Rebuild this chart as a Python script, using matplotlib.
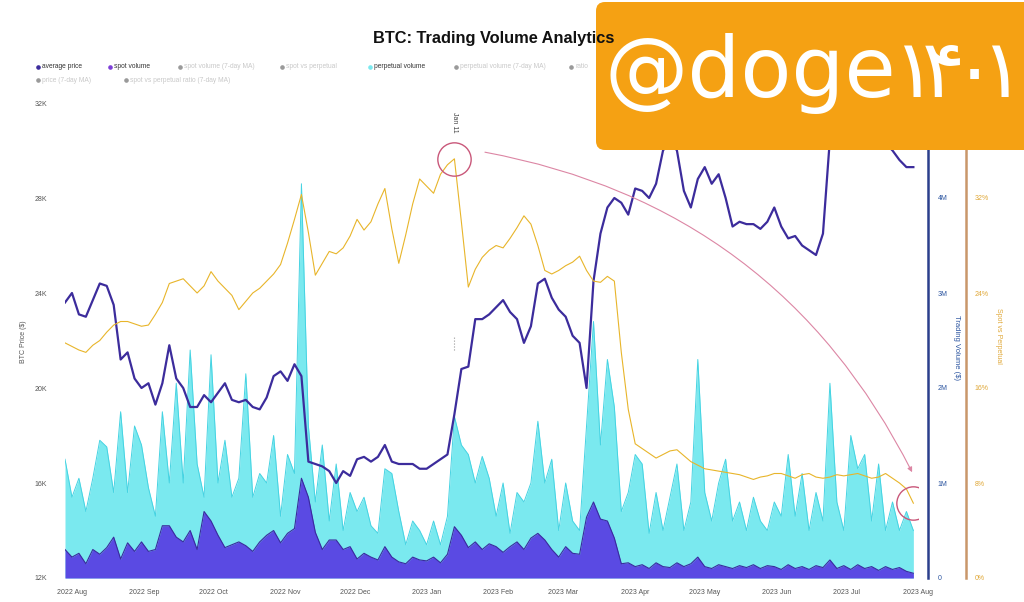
import matplotlib.pyplot as plt
import matplotlib.dates as mdates
from matplotlib.patches import FancyBboxPatch
from matplotlib.ticker import FuncFormatter
import pandas as pd

plt.rcParams['font.family'] = ['Liberation Sans', 'DejaVu Sans']

# one sample every 3 days, 2022-07-29 .. 2023-07-30
dates = pd.date_range('2022-07-29', periods=123, freq='3D')

# average BTC price (thousands of $)
price_k = [23.6, 24.0, 23.1, 23.0, 23.7, 24.4, 24.3, 23.5, 21.2, 21.5,
           20.4, 20.0, 20.2, 19.3, 20.2, 21.8, 20.4, 20.0, 19.2, 19.2,
           19.7, 19.4, 19.8, 20.2, 19.5, 19.4, 19.5, 19.2, 19.1, 19.6,
           20.5, 20.7, 20.3, 21.0, 20.5, 16.9, 16.8, 16.7, 16.5, 16.0,
           16.5, 16.3, 17.0, 17.1, 16.9, 17.1, 17.6, 16.9, 16.8, 16.8,
           16.8, 16.6, 16.6, 16.8, 17.0, 17.2, 18.9, 20.8, 20.9, 22.9,
           22.9, 23.1, 23.4, 23.7, 23.2, 22.9, 21.9, 22.6, 24.4, 24.6,
           23.8, 23.3, 23.0, 22.2, 21.9, 20.0, 24.5, 26.5, 27.6, 28.0,
           27.8, 27.3, 28.4, 28.3, 28.0, 28.6, 30.0, 30.4, 30.0, 28.3,
           27.6, 28.8, 29.3, 28.6, 29.0, 28.0, 26.8, 27.0, 26.9, 26.9,
           26.7, 27.0, 27.6, 26.8, 26.3, 26.4, 26.0, 25.8, 25.6, 26.5,
           30.5, 30.6, 30.3, 30.8, 30.3, 30.2, 30.5, 30.1, 30.3, 30.0,
           29.6, 29.3, 29.3]

# spot vs perpetual (%)
spot_pct = [19.8, 19.5, 19.2, 19.0, 19.6, 20.0, 20.7, 21.3, 21.6, 21.6,
            21.4, 21.2, 21.3, 22.2, 23.2, 24.8, 25.0, 25.2, 24.6, 24.0,
            24.6, 25.8, 25.0, 24.4, 23.8, 22.6, 23.3, 24.0, 24.4, 25.0,
            25.6, 26.4, 28.2, 30.2, 32.3, 29.1, 25.5, 26.5, 27.5, 27.3,
            27.8, 28.8, 30.2, 29.3, 30.0, 31.5, 32.8, 29.4, 26.5, 28.9,
            31.5, 33.6, 33.0, 32.4, 34.0, 34.8, 35.3, 30.0, 24.5, 26.0,
            27.0, 27.6, 28.0, 27.8, 28.6, 29.5, 30.5, 29.8, 28.0, 25.9,
            25.6, 25.9, 26.3, 26.6, 27.1, 25.9, 25.0, 24.9, 25.4, 25.0,
            19.0, 14.2, 11.3, 10.9, 10.5, 10.1, 10.4, 10.7, 10.8, 10.3,
            9.8, 9.5, 9.2, 9.1, 9.0, 8.9, 8.8, 8.7, 8.5, 8.3,
            8.5, 8.6, 8.8, 8.8, 8.6, 8.4, 8.7, 8.8, 8.5, 8.4,
            8.5, 8.7, 8.6, 8.7, 8.8, 8.6, 8.4, 8.5, 8.8, 8.4,
            8.0, 7.5, 6.3]

# perpetual volume (millions of $)
perp_m = [1.25, 0.85, 1.05, 0.70, 1.05, 1.45, 1.38, 0.90, 1.75, 0.90,
          1.60, 1.40, 0.95, 0.65, 1.75, 1.00, 2.05, 1.00, 2.40, 1.20,
          0.85, 2.35, 1.00, 1.45, 0.85, 1.05, 2.15, 0.85, 1.10, 1.00,
          1.50, 0.65, 1.30, 1.10, 4.15, 1.60, 0.80, 1.40, 0.60, 1.20,
          0.50, 0.90, 0.70, 0.85, 0.55, 0.47, 1.15, 1.10, 0.70, 0.35,
          0.60, 0.50, 0.35, 0.60, 0.35, 0.65, 1.70, 1.40, 1.30, 1.00,
          1.28, 1.05, 0.65, 1.00, 0.47, 0.90, 0.80, 1.00, 1.65, 1.00,
          1.25, 0.50, 1.00, 0.60, 0.50, 1.60, 2.70, 1.40, 2.30, 1.80,
          0.70, 0.90, 1.30, 1.20, 0.47, 0.90, 0.50, 0.85, 1.20, 0.50,
          0.80, 2.30, 0.90, 0.60, 1.00, 1.25, 0.60, 0.80, 0.50, 0.85,
          0.60, 0.50, 0.80, 0.65, 1.30, 0.65, 1.10, 0.50, 0.90, 0.60,
          2.05, 0.80, 0.50, 1.50, 1.15, 1.30, 0.60, 1.20, 0.50, 0.80,
          0.50, 0.70, 0.50]

# spot volume (millions of $)
spot_m = [0.30, 0.22, 0.26, 0.15, 0.30, 0.25, 0.32, 0.43, 0.20, 0.37,
          0.28, 0.38, 0.28, 0.30, 0.55, 0.55, 0.43, 0.38, 0.50, 0.30,
          0.70, 0.60, 0.45, 0.32, 0.35, 0.38, 0.34, 0.28, 0.38, 0.45,
          0.50, 0.37, 0.47, 0.52, 1.05, 0.85, 0.48, 0.30, 0.40, 0.40,
          0.30, 0.33, 0.20, 0.26, 0.22, 0.19, 0.33, 0.22, 0.17, 0.15,
          0.22, 0.19, 0.18, 0.22, 0.16, 0.25, 0.54, 0.45, 0.32, 0.38,
          0.30, 0.36, 0.33, 0.27, 0.33, 0.38, 0.30, 0.42, 0.47, 0.40,
          0.30, 0.22, 0.33, 0.26, 0.25, 0.64, 0.80, 0.62, 0.60, 0.42,
          0.15, 0.16, 0.12, 0.14, 0.10, 0.16, 0.12, 0.11, 0.16, 0.12,
          0.15, 0.22, 0.12, 0.10, 0.14, 0.12, 0.10, 0.13, 0.11, 0.14,
          0.10, 0.13, 0.12, 0.09, 0.14, 0.10, 0.12, 0.09, 0.13, 0.11,
          0.19, 0.10, 0.13, 0.09, 0.14, 0.10, 0.12, 0.08, 0.12, 0.09,
          0.11, 0.07, 0.05]

month_ticks = pd.date_range('2022-08-01', '2023-08-01', freq='MS')

legend_items = [
    ('average price', '#3c2c9c', '#333333', 38, 67),
    ('spot volume', '#7d3fd8', '#333333', 110, 67),
    ('spot volume (7-day MA)', '#9a9a9a', '#c8c8c8', 180, 67),
    ('spot vs perpetual', '#9a9a9a', '#c8c8c8', 282, 67),
    ('perpetual volume', '#7ae9ef', '#333333', 370, 67),
    ('perpetual volume (7-day MA)', '#9a9a9a', '#c8c8c8', 456, 67),
    ('ratio', '#9a9a9a', '#c8c8c8', 571, 67),
    ('price (7-day MA)', '#9a9a9a', '#c8c8c8', 38, 80),
    ('spot vs perpetual ratio (7-day MA)', '#9a9a9a', '#c8c8c8', 126, 80),
]

fig = plt.figure(figsize=(10.24, 6.02), dpi=100)
ax = fig.add_axes([65 / 1024, 24 / 602, 853 / 1024, 475 / 602])
ax2 = ax.twinx()
ax3 = ax.twinx()
ax2.set_zorder(1)
ax.set_zorder(2)
ax3.set_zorder(3)
ax.patch.set_visible(False)
ax3.patch.set_visible(False)

# volumes
ax2.fill_between(dates, perp_m, color='#7ae9ef', lw=0)
ax2.plot(dates, perp_m, color='#45d3e2', lw=0.7)
ax2.fill_between(dates, spot_m, color='#5a4ae3', lw=0)
ax2.plot(dates, spot_m, color='#3a2a9e', lw=0.8)

# price
ax.plot(dates, price_k, color='#3c2c9c', lw=1.6)

# spot %
ax3.plot(dates, spot_pct, color='#e8b52a', lw=0.8)

ax.set_xlim(pd.Timestamp('2022-07-29'), pd.Timestamp('2023-08-01'))
ax.set_ylim(12, 32)
ax2.set_ylim(0, 5)
ax3.set_ylim(0, 40)

ax.set_xticks(month_ticks)
ax.xaxis.set_major_formatter(mdates.DateFormatter('%Y %b'))
ax.set_yticks([12, 16, 20, 24, 28, 32])
ax.yaxis.set_major_formatter(FuncFormatter(lambda v, p: f'{v:.0f}K'))
ax2.set_yticks([0, 1, 2, 3, 4])
ax2.yaxis.set_major_formatter(FuncFormatter(lambda v, p: '0' if v == 0 else f'{v:.0f}M'))
ax3.set_yticks([0, 8, 16, 24, 32])
ax3.yaxis.set_major_formatter(FuncFormatter(lambda v, p: f'{v:.0f}%'))

for a in (ax, ax2, ax3):
    for s in a.spines.values():
        s.set_visible(False)
ax2.spines['right'].set_visible(True)
ax2.spines['right'].set_position(('axes', 1.0117))
ax2.spines['right'].set_color('#2b3f8c')
ax2.spines['right'].set_linewidth(1.8)
ax3.spines['right'].set_visible(True)
ax3.spines['right'].set_position(('axes', 1.056))
ax3.spines['right'].set_color('#c9976a')
ax3.spines['right'].set_linewidth(1.8)

ax.tick_params(axis='y', length=0, pad=13, labelsize=5, labelcolor='#555555')
ax.tick_params(axis='x', length=0, pad=8, labelsize=5, labelcolor='#555555')
ax2.tick_params(axis='y', length=0, pad=7, labelsize=5, labelcolor='#2c55a0')
ax3.tick_params(axis='y', length=0, pad=6.5, labelsize=5, labelcolor='#e0a838')

ax.set_ylabel('BTC Price ($)', fontsize=5, color='#555555', va='center')
ax.yaxis.set_label_coords(-0.0487, 0.497)
ax2.set_ylabel('Trading Volume ($)', fontsize=5.5, color='#2c55a0', rotation=270, va='center')
ax2.yaxis.set_label_coords(1.0457, 0.486)
ax3.set_ylabel('Spot vs Perpetual', fontsize=5, color='#e0a838', rotation=270, va='center')
ax3.yaxis.set_label_coords(1.0938, 0.51)

# annotations
ax.vlines(dates[56], 21.6, 22.2, colors='#999999', linestyles=':', lw=0.8)
ax.text(dates[56], 31.2, 'Jan 11', rotation=270, fontsize=5, ha='center', va='center', color='#444444')
ax3.plot(dates[56], spot_pct[56], marker='o', ms=24, mfc='none', mec='#c9587a', mew=1)
ax3.plot(dates[-1], spot_pct[-1], marker='o', ms=24, mfc='none', mec='#c9587a', mew=1)
ax3.annotate('', xy=(dates[-1], 8.7), xytext=(dates[60], 35.9),
             arrowprops=dict(arrowstyle='-|>', connectionstyle='arc3,rad=-0.25',
                             color='#dc86a4', lw=0.8, mutation_scale=7))

# overlay in pixel coordinates for title, legend and watermark
ov = fig.add_axes([0, 0, 1, 1])
ov.set_xlim(0, 1024)
ov.set_ylim(602, 0)
ov.axis('off')
ov.set_zorder(10)

ov.text(494, 38, 'BTC: Trading Volume Analytics', ha='center', va='center',
        fontsize=11.8, fontweight='bold', color='#111111')

for label, mc, tc, x, y in legend_items:
    ov.plot(x, y, 'o', ms=2.3, color=mc)
    ov.text(x + 4, y, label, fontsize=4.8, color=tc, ha='left', va='center')

ov.add_patch(FancyBboxPatch((596, 2), 440, 148, boxstyle='round,pad=0,rounding_size=9',
                            fc='#f5a113', ec='none'))
ov.text(604, 97, '@doge', fontsize=60, family='DejaVu Sans', color='white',
        ha='left', va='baseline')
for ch, cx, ha in zip('۱۴۰', [914, 943, 974], ['center', 'center', 'center']):
    ov.text(cx, 97, ch, fontsize=58, family='DejaVu Sans', color='white',
            ha=ha, va='baseline')
ov.text(1023, 97, '۱', fontsize=58, family='DejaVu Sans', color='white',
        ha='right', va='baseline')

fig.savefig('out.png', dpi=100)
